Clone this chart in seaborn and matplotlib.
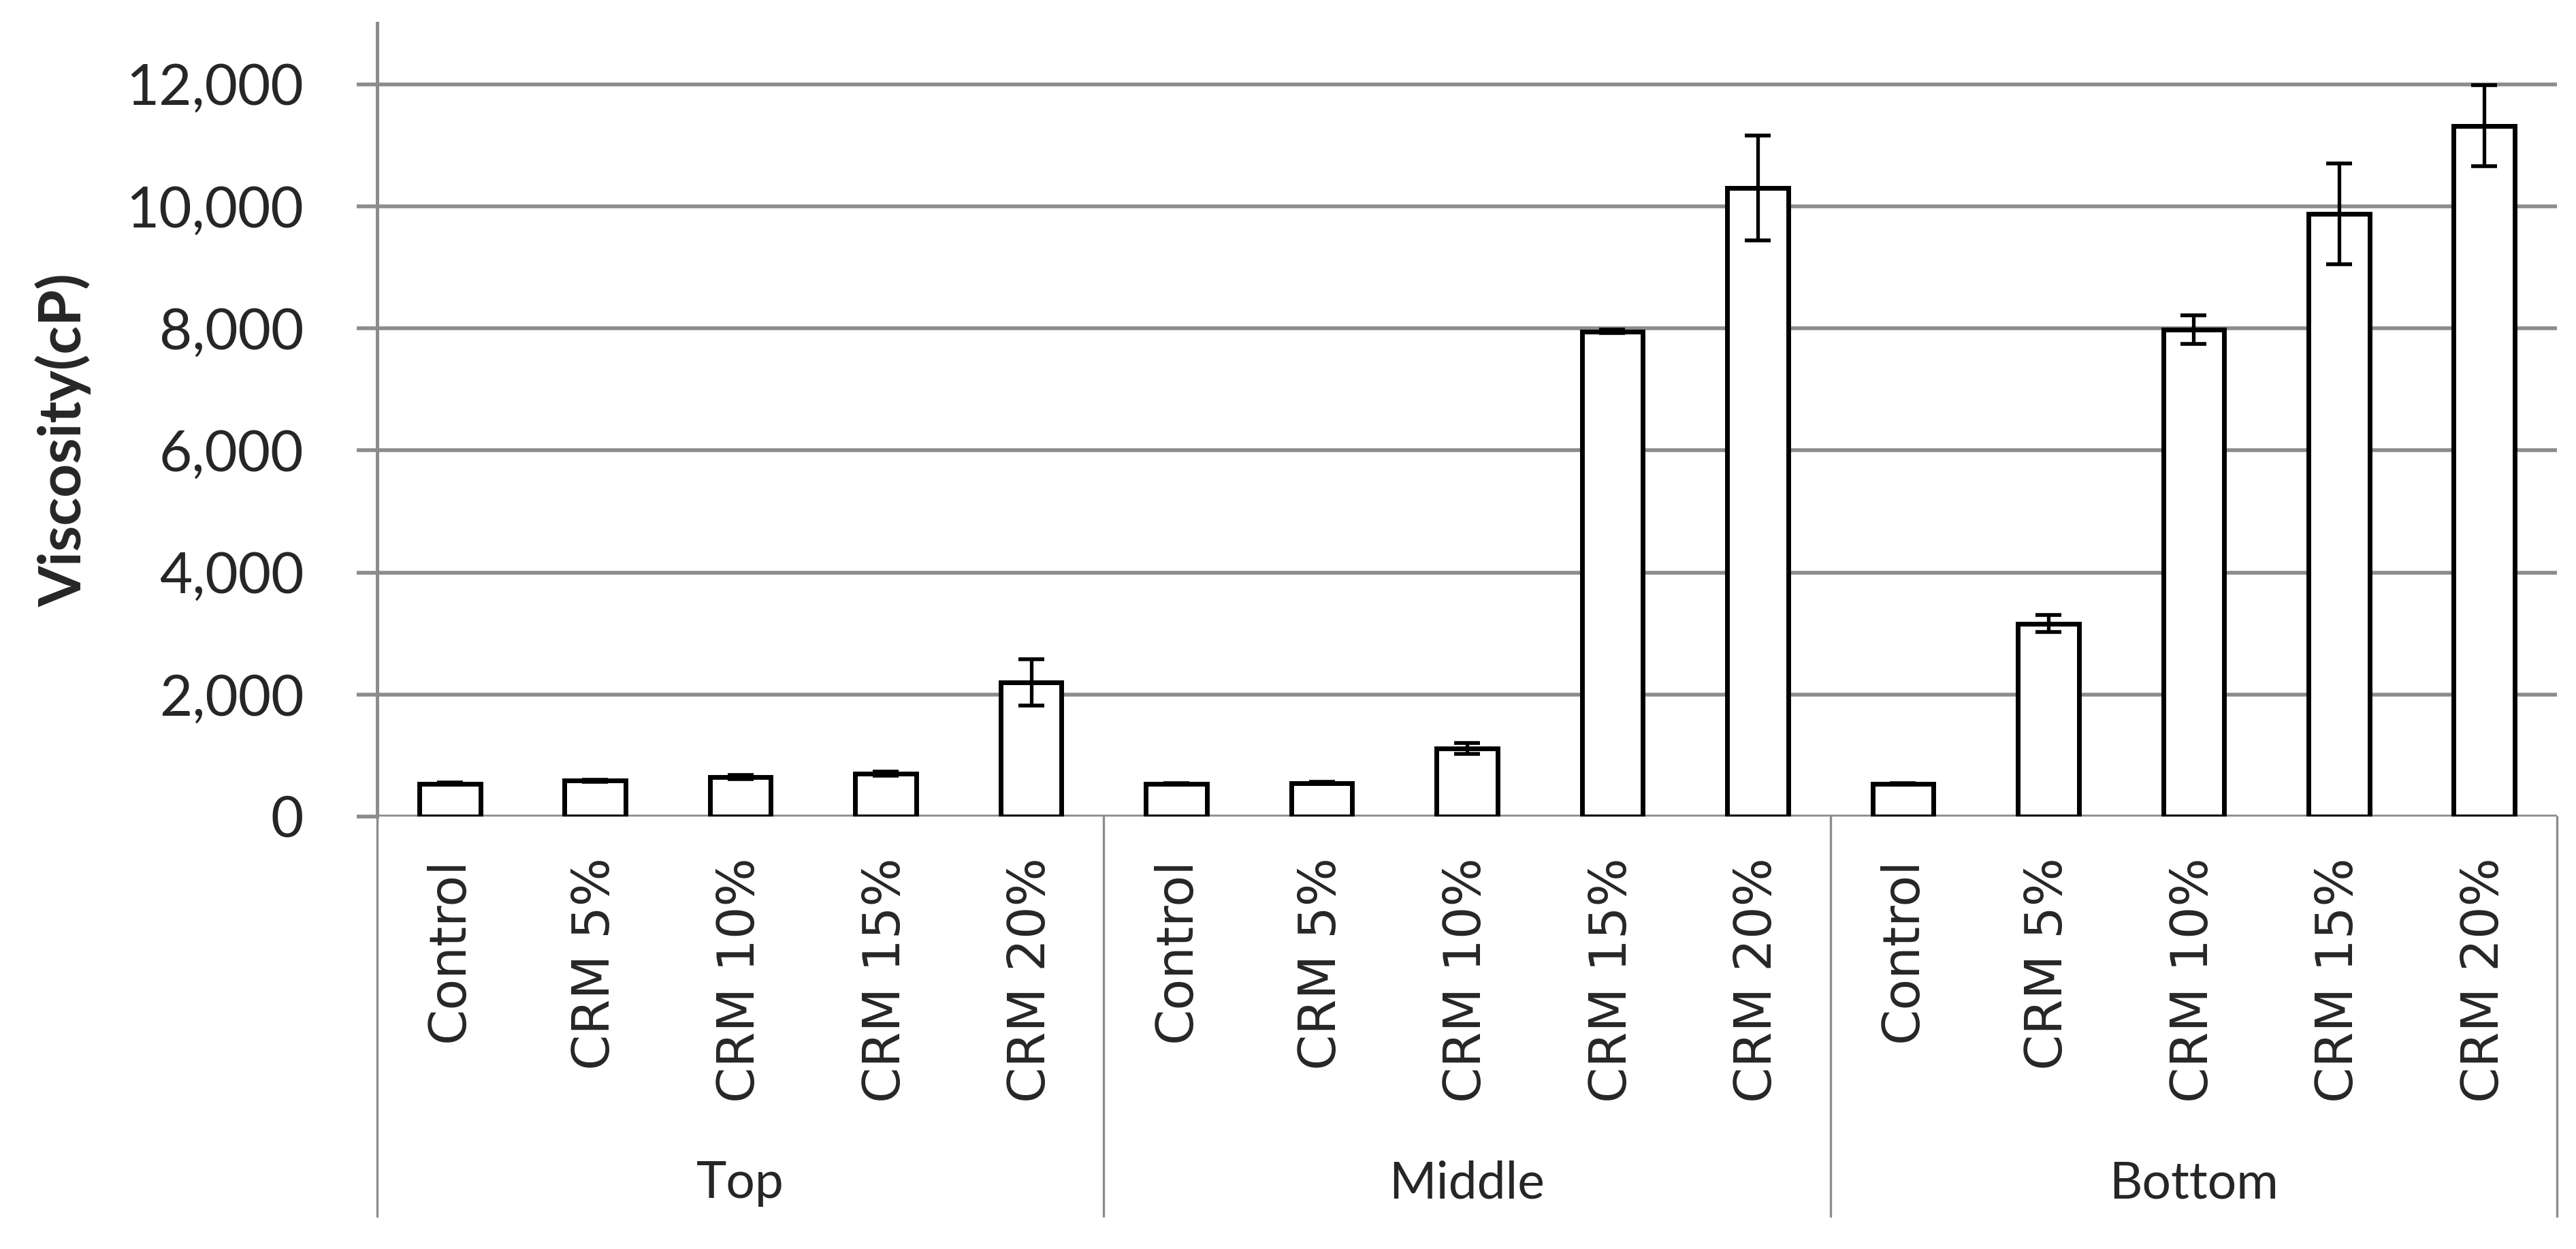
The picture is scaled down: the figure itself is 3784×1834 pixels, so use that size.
import numpy as np
import pandas as pd
import matplotlib
matplotlib.use("Agg")
import matplotlib.pyplot as plt
import matplotlib.transforms as mtransforms
from matplotlib.ticker import FuncFormatter
import seaborn as sns

# datos
grupos = ["Top", "Middle", "Bottom"]
condiciones = ["Control", "CRM 5%", "CRM 10%", "CRM 15%", "CRM 20%"]

visc_top = [540, 588, 644, 700, 2195]
visc_middle = [534, 552, 1113, 7948, 10295]
visc_bottom = [534, 3160, 7975, 9880, 11320]

err_top = [15, 20, 35, 35, 380]
err_middle = [10, 15, 90, 25, 860]
err_bottom = [10, 140, 235, 825, 660]

GRIS = "#8c8c8c"

df = pd.DataFrame({
    "grupo": np.repeat(grupos, len(condiciones)),
    "condicion": condiciones * len(grupos),
    "viscosidad": visc_top + visc_middle + visc_bottom,
    "error": err_top + err_middle + err_bottom,
})
df["slot"] = df["grupo"] + " | " + df["condicion"]

sns.set_theme(style="white")
plt.rcParams["font.family"] = ["Lato", "DejaVu Sans"]

fig = plt.figure(figsize=(18.92, 9.17), dpi=200)
ax = fig.add_axes([554 / 3784, 1 - 1199 / 1834, 3202 / 3784, 1165 / 1834])

sns.barplot(data=df, x="slot", y="viscosidad", order=list(df["slot"]),
            color="white", edgecolor="black", linewidth=2.5, width=0.42,
            errorbar=None, ax=ax)
ax.errorbar(np.arange(len(df)), df["viscosidad"], yerr=df["error"], fmt="none",
            ecolor="black", elinewidth=1.9, capsize=6.8, capthick=2.0, zorder=5)

# ejes estilo Excel
ax.set_xlim(-0.5, len(df) - 0.5)
ax.set_ylim(0, 13000)
ax.set_yticks(np.arange(0, 12001, 2000))
ax.yaxis.set_major_formatter(FuncFormatter(lambda v, p: f"{int(v):,}"))
ax.grid(axis="y", color=GRIS, linewidth=2.0)
ax.set_axisbelow(True)
for lado in ["top", "right", "bottom"]:
    ax.spines[lado].set_visible(False)
ax.spines["left"].set_color(GRIS)
ax.spines["left"].set_linewidth(1.8)
ax.tick_params(axis="y", direction="out", length=10.8, width=2.0, color=GRIS,
               pad=28, labelsize=30, left=True)
ax.tick_params(axis="x", length=0, pad=21.6)

ax.set_xticks(np.arange(len(df)))
ax.set_xticklabels(df["condicion"], rotation=90, fontsize=27,
                   family="DejaVu Sans", va="top", ha="center")
ax.set_xlabel("")
ax.set_ylabel("Viscosity(cP)", fontsize=31, fontweight="bold")
ax.yaxis.set_label_coords(-0.131, 0.475)

# separadores y etiquetas de grupo
trans = mtransforms.blended_transform_factory(ax.transData, ax.transAxes)
fondo = -(1786 - 1199) / 1165
for xb in np.arange(-0.5, len(df), len(condiciones)):
    ax.plot([xb, xb], [0, fondo], transform=trans, color=GRIS,
            linewidth=1.2, clip_on=False)
for i, g in enumerate(grupos):
    centro = i * len(condiciones) + (len(condiciones) - 1) / 2
    ax.text(centro, -(1759 - 1199) / 1165, g, transform=trans,
            ha="center", va="baseline", fontsize=27)

fig.savefig("out.png", dpi=200)
plt.close(fig)
